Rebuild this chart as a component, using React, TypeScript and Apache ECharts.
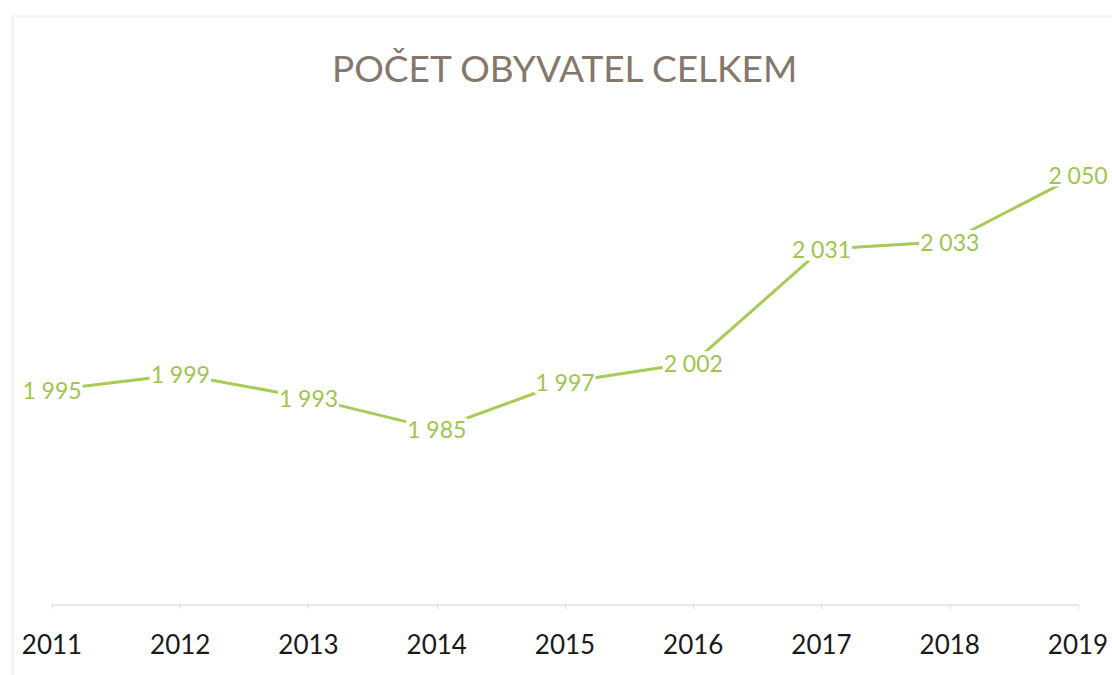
import React, { useEffect, useRef } from "react";
import * as echarts from "echarts";

const categories = ["2011", "2012", "2013", "2014", "2015", "2016", "2017", "2018", "2019"];
const population = [1995, 1999, 1993, 1985, 1997, 2002, 2031, 2033, 2050];
const titleText = "POČET OBYVATEL CELKEM";

function fmt(v: number): string {
  return String(v).replace(/\B(?=(\d{3})+(?!\d))/g, " ");
}

export default function App() {
  const ref = useRef<HTMLDivElement>(null);
  useEffect(() => {
    if (!ref.current) return;
    const chart = echarts.init(ref.current, undefined, { renderer: "svg" });
    chart.setOption({
      animation: false,
      title: {
        text: titleText,
        left: 327,
        top: 44,
        textStyle: { fontFamily: "Lato", fontWeight: "normal", fontSize: 37, color: "#85776b" },
      },
      grid: { left: 52, right: 34, top: 136, bottom: 70 },
      xAxis: {
        type: "category",
        data: categories,
        boundaryGap: false,
        axisLine: { lineStyle: { color: "#e2e2e2", width: 1.5 } },
        axisTick: { show: true, length: 4, lineStyle: { color: "#dddddd" } },
        axisLabel: { color: "#1a1a1a", fontFamily: "Lato", fontSize: 26, margin: 26 },
      },
      yAxis: {
        type: "value",
        min: 1940,
        max: 2060,
        show: false,
        splitLine: { show: false },
      },
      series: [
        {
          type: "line",
          data: population,
          symbol: "circle",
          symbolSize: 1,
          showSymbol: true,
          itemStyle: { color: "rgba(0,0,0,0)" },
          lineStyle: { color: "#a6cc55", width: 3 },
          label: {
            show: true,
            position: "inside",
            formatter: (p: any) => fmt(p.value),
            color: "#9cc64d",
            fontFamily: "Lato",
            fontSize: 23,
            backgroundColor: "#ffffff",
            padding: [0, 1],
          },
        },
      ],
    });
    return () => chart.dispose();
  }, []);
  return (
    <div style={{ position: "absolute", left: 0, top: 0, width: 1112, height: 675, background: "#fff" }}>
      <div
        style={{
          position: "absolute",
          left: 11,
          top: 15,
          width: 1101,
          height: 660,
          borderLeft: "3px solid #f4f4f4",
          borderTop: "3px solid #f5f5f5",
          boxSizing: "border-box",
        }}
      />
      <div ref={ref} style={{ position: "absolute", left: 0, top: 0, width: 1112, height: 675 }} />
    </div>
  );
}
